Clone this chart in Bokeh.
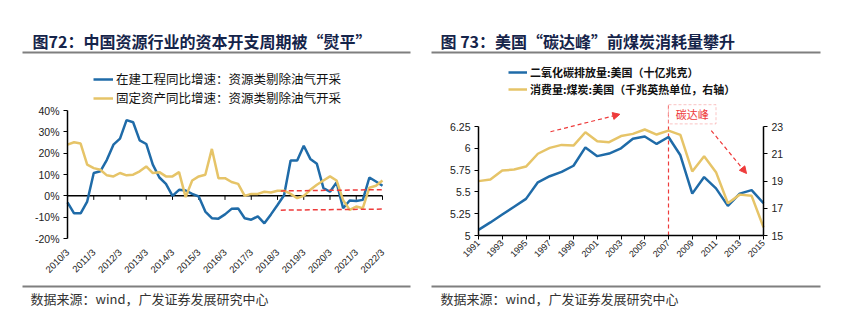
import math
from bokeh.plotting import figure
from bokeh.layouts import row
from bokeh.models import (Range1d, LinearAxis, FixedTicker, Label, Legend, LegendItem,
                          BoxAnnotation, Arrow, NormalHead, PrintfTickFormatter,
                          ColumnDataSource)
from bokeh.embed import file_html
from bokeh.resources import INLINE

# ---------------- data: left chart (quarterly, 2010/3 .. 2022/3) ----------------
quarters = [f"{y}/{m}" for y in range(2010, 2023) for m in (3, 6, 9, 12)][:49]
construction_yoy = [-3.1, -8.2, -8.2, -2.7, 10.7, 11.5, 16.9, 24.0, 26.8, 35.5,
                    34.5, 26.0, 24.3, 14.6, 8.6, 5.6, 0.0, 2.8, 2.5, 0.9,
                    -0.3, -7.4, -10.5, -10.7, -8.7, -6.1, -5.9, -10.5, -11.2, -9.6,
                    -12.9, -8.7, -4.3, 0.3, 16.6, 16.6, 23.5, 17.3, 15.0, 3.6,
                    1.9, 6.3, -5.8, -2.2, -2.4, -1.9, 8.6, 6.7, 4.7]
fixed_asset_yoy = [24.0, 25.1, 24.5, 14.6, 13.0, 12.2, 9.6, 9.1, 10.7, 9.6,
                   9.9, 11.5, 13.8, 10.7, 11.1, 9.1, 9.1, 11.1, -0.6, 7.2,
                   9.1, 9.9, 22.0, 8.3, 8.3, 6.5, 5.6, 0.0, 0.9, 0.9,
                   1.9, 1.6, 2.4, 2.4, 0.9, -1.1, 0.0, 2.8, 5.2, 7.2,
                   9.1, 7.2, -2.0, -6.6, -5.0, -5.8, 3.8, 4.7, 7.2]
left_tick_labels = ["2010/3", "2011/3", "2012/3", "2013/3", "2014/3", "2015/3", "2016/3",
                    "2017/3", "2018/3", "2019/3", "2020/3", "2021/3", "2022/3"]
left_y_ticks = [-20, -10, 0, 10, 20, 30, 40]
# red dashed reference band (quarter index, %)
band_x = [32.5, 48.2]
band_upper = [2.3, 2.9]
band_lower = [-6.7, -6.2]

# ---------------- data: right chart (annual) ----------------
years = list(range(1991, 2016))
co2_us = [5.065, 5.15, 5.24, 5.33, 5.42, 5.61, 5.68, 5.73, 5.80, 6.01,
          5.91, 5.94, 6.00, 6.11, 6.135, 6.05, 6.13, 5.92, 5.48, 5.67,
          5.54, 5.34, 5.48, 5.52, 5.37]
coal_us = [18.99, 19.11, 19.77, 19.84, 20.06, 21.0, 21.43, 21.65, 21.6, 22.58,
           21.92, 21.85, 22.3, 22.46, 22.78, 22.41, 22.7, 22.39, 19.7, 20.82,
           19.65, 17.37, 18.0, 17.91, 15.6]
right_x_ticks = list(range(1991, 2016, 2))
left_axis_ticks = [5, 5.25, 5.5, 5.75, 6, 6.25]
right_axis_ticks = [15, 17, 19, 21, 23]
peak_year = 2007

BLUE = "#1F6BA8"
YELLOW = "#E6C468"
RED = "#EE3B3B"
TITLE = "#15244A"
RULE = "#7F7F7F"
CJK = "Noto Sans CJK SC"
LAT = "Liberation Sans"
SOURCE = "数据来源：wind，广发证券发展研究中心"
H = 325


def xr(v0, px0, v1, px1, w):
    ppu = (px1 - px0) / (v1 - v0)
    s = v0 - px0 / ppu
    return Range1d(s, s + w / ppu)


def yr(v_top, px_top, v_bot, px_bot, h):
    ppu = (px_bot - px_top) / (v_top - v_bot)
    top = v_top + px_top / ppu
    return Range1d(top - h / ppu, top)


def make_fig(w, x_range, y_range):
    p = figure(width=w, height=H, x_range=x_range, y_range=y_range, output_backend="svg",
               toolbar_location=None, x_axis_type=None, y_axis_type=None,
               min_border_left=0, min_border_right=0, min_border_top=0, min_border_bottom=0)
    p.outline_line_color = None
    p.grid.visible = False
    p.background_fill_color = "white"
    p.border_fill_color = "white"
    return p


def style_axis(ax, size="10.5px"):
    ax.axis_line_color = "black"
    ax.axis_line_width = 1.5
    ax.major_tick_out = 4
    ax.major_tick_in = 0
    ax.major_tick_line_color = "black"
    ax.minor_tick_line_color = None
    ax.major_label_text_font = LAT
    ax.major_label_text_font_size = size
    ax.major_label_text_color = "#222222"


def decorate(p, title, tx, rule_x0, rule_x1, src_x, legend_items, leg_x, leg_y,
             glyph_w, spacing, font_size, font_style):
    p.add_layout(Label(x=tx, y=H - 40, x_units="screen", y_units="screen", text=title,
                       text_font=CJK, text_font_size="16px", text_font_style="bold",
                       text_color=TITLE, text_baseline="middle"))
    for yy in (H - 52, H - 286):
        p.add_layout(BoxAnnotation(left=rule_x0, right=rule_x1, top=yy + 1, bottom=yy - 1,
                                   left_units="screen", right_units="screen",
                                   top_units="screen", bottom_units="screen",
                                   fill_color=RULE, fill_alpha=1, line_color=None,
                                   line_alpha=0))
    p.add_layout(Label(x=src_x, y=H - 298, x_units="screen", y_units="screen", text=SOURCE,
                       text_font=CJK, text_font_size="13px", text_color="#333333",
                       text_baseline="middle"))
    p.add_layout(Legend(items=[LegendItem(label=l, renderers=[r]) for l, r in legend_items],
                        location=(leg_x, leg_y), glyph_width=glyph_w, glyph_height=12,
                        label_height=12, spacing=spacing, padding=0, margin=0,
                        border_line_color=None, background_fill_alpha=0,
                        label_standoff=3, label_text_font=CJK,
                        label_text_font_size=font_size, label_text_font_style=font_style,
                        label_text_color="#111111"), "center")


# ================= left panel =================
p1 = make_fig(420, xr(0, 67, 48, 67 + 48 * 6.5625, 420), yr(40, 110, -20, 238, H))
src1 = ColumnDataSource(dict(x=list(range(len(quarters))), q=quarters,
                             a=construction_yoy, b=fixed_asset_yoy))
left_tick_pos = [4 * i for i in range(len(left_tick_labels))]
# zero line with downward tick marks
p1.segment(x0=[left_tick_pos[0]], y0=[0], x1=[left_tick_pos[-1]], y1=[0],
           line_color="black", line_width=1.5)
p1.segment(x0=left_tick_pos, y0=[0] * len(left_tick_pos), x1=left_tick_pos,
           y1=[-1.9] * len(left_tick_pos), line_color="black", line_width=1)
r_b = p1.line("x", "a", source=src1, line_color=BLUE, line_width=2.5)
r_y = p1.line("x", "b", source=src1, line_color=YELLOW, line_width=2.5)
p1.segment(x0=[band_x[0]] * 2, y0=[band_upper[0], band_lower[0]],
           x1=[band_x[1]] * 2, y1=[band_upper[1], band_lower[1]],
           line_color=RED, line_width=1.5, line_dash="5 3")

yax = LinearAxis(fixed_location=0, bounds=(left_y_ticks[0], left_y_ticks[-1]),
                 ticker=FixedTicker(ticks=left_y_ticks),
                 formatter=PrintfTickFormatter(format="%d%%"))
style_axis(yax)
yax.major_label_standoff = 4
p1.add_layout(yax, "left")

xax = LinearAxis(fixed_location=left_y_ticks[0],
                 bounds=(left_tick_pos[0], left_tick_pos[-1]),
                 ticker=FixedTicker(ticks=left_tick_pos))
xax.major_label_overrides = {t: l for t, l in zip(left_tick_pos, left_tick_labels)}
style_axis(xax, "9.5px")
xax.axis_line_color = None
xax.major_tick_line_color = None
xax.major_label_orientation = math.pi / 4
xax.major_label_standoff = 8
p1.add_layout(xax, "below")

decorate(p1, "图72：中国资源行业的资本开支周期被“熨平”", 32, 22, 410, 30,
         [("在建工程同比增速：资源类剔除油气开采", r_b),
          ("固定资产同比增速：资源类剔除油气开采", r_y)],
         93, H - 107, 20, 0, "12.5px", "normal")

# ================= right panel =================
p2 = make_fig(421, xr(1991, 58, 2015, 343, 421), yr(6.25, 126, 5, 235, H))
p2.extra_y_ranges = {"coal": yr(23, 126, 15, 235, H)}
src2 = ColumnDataSource(dict(year=years, co2=co2_us, coal=coal_us))

p2.segment(x0=[peak_year], y0=[5], x1=[peak_year], y1=[6.5], line_color=RED,
           line_dash="4 3", line_width=1.2)
r_c = p2.line("year", "co2", source=src2, line_color=BLUE, line_width=2.5)
r_k = p2.line("year", "coal", source=src2, line_color=YELLOW, line_width=2.5,
              y_range_name="coal")

ly = LinearAxis(fixed_location=years[0], bounds=(left_axis_ticks[0], left_axis_ticks[-1]),
                ticker=FixedTicker(ticks=left_axis_ticks))
ly.major_label_overrides = {t: f"{t:g}" for t in left_axis_ticks}
ry = LinearAxis(fixed_location=years[-1], y_range_name="coal",
                bounds=(right_axis_ticks[0], right_axis_ticks[-1]),
                ticker=FixedTicker(ticks=right_axis_ticks))
for ax in (ly, ry):
    style_axis(ax)
    ax.major_label_standoff = 4
p2.add_layout(ly, "left")
p2.add_layout(ry, "right")

bx = LinearAxis(fixed_location=left_axis_ticks[0], bounds=(years[0], years[-1]),
                ticker=FixedTicker(ticks=right_x_ticks))
style_axis(bx, "9px")
bx.major_label_orientation = math.pi / 4
bx.major_label_standoff = 2
p2.add_layout(bx, "below")

p2.add_layout(BoxAnnotation(left=peak_year, right=2011, top=6.5, bottom=6.28,
                            fill_color="white", fill_alpha=1, line_color=RED,
                            line_dash="3 2", line_width=1))
p2.add_layout(Label(x=2009, y=6.39, text="碳达峰", text_font=CJK, text_font_size="11px",
                    text_color=RED, text_align="center", text_baseline="middle"))
p2.add_layout(Arrow(end=NormalHead(size=7, fill_color=RED, line_color=RED),
                    x_start=1997.06, y_start=6.19, x_end=2002.9, y_end=6.39,
                    line_color=RED, line_dash="4 3", line_width=1.2))
p2.add_layout(Arrow(end=NormalHead(size=7, fill_color=RED, line_color=RED),
                    x_start=2010.6, y_start=6.204, x_end=2013.57, y_end=5.711,
                    line_color=RED, line_dash="4 3", line_width=1.2))

decorate(p2, "图 73：美国“碳达峰”前煤炭消耗量攀升", 20, 11, 400, 20,
         [("二氧化碳排放量:美国（十亿兆克）", r_c),
          ("消费量:煤炭:美国（千兆英热单位，右轴）", r_k)],
         88, H - 97, 19, 1, "11px", "bold")

layout = row(p1, p2, spacing=0)
open("out.html", "w").write(file_html(layout, INLINE))
